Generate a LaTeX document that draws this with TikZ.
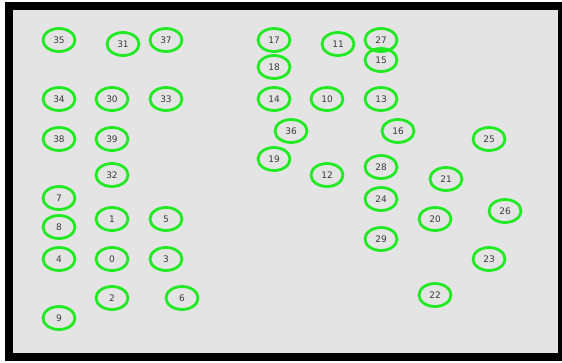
\documentclass[tikz,border=0pt]{standalone}
\usepackage{fontspec}
\setmainfont{DejaVu Sans}
\usepackage{xcolor}
\usepackage{tikz}
\usetikzlibrary{shapes.geometric}

\definecolor{panelgray}{HTML}{E4E4E4}
\definecolor{ringgreen}{HTML}{22EA22}
\definecolor{labelgray}{HTML}{3A3A3A}

\begin{document}
\begin{tikzpicture}[x=1pt, y=-1pt,
    blob/.style={ellipse, draw=ringgreen, line width=2.8pt, minimum width=32pt,
      minimum height=23pt, inner sep=0pt, text=labelgray, font=\fontsize{9}{10}\selectfont}]
  \useasboundingbox (0,0) rectangle (562,362);

  % Frame
  \fill[black] (5,2) rectangle (562,361);
  \fill[panelgray] (13,10) rectangle (558,353);

  % Left group
  \node[blob] (n35) at (59,40) {35};
  \node[blob] (n31) at (123,44) {31};
  \node[blob] (n37) at (166,40) {37};
  \node[blob] (n34) at (59,99) {34};
  \node[blob] (n30) at (112,99) {30};
  \node[blob] (n33) at (166,99) {33};
  \node[blob] (n38) at (59,139) {38};
  \node[blob] (n39) at (112,139) {39};
  \node[blob] (n32) at (112,175) {32};
  \node[blob] (n7) at (59,198) {7};
  \node[blob] (n8) at (59,227) {8};
  \node[blob] (n1) at (112,219) {1};
  \node[blob] (n5) at (166,219) {5};
  \node[blob] (n4) at (59,259) {4};
  \node[blob] (n0) at (112,259) {0};
  \node[blob] (n3) at (166,259) {3};
  \node[blob] (n2) at (112,298) {2};
  \node[blob] (n6) at (182,298) {6};
  \node[blob] (n9) at (59,318) {9};

  % Middle group
  \node[blob] (n17) at (274,40) {17};
  \node[blob] (n11) at (338,44) {11};
  \node[blob] (n27) at (381,40) {27};
  \node[blob] (n15) at (381,60) {15};
  \node[blob] (n18) at (274,67) {18};
  \node[blob] (n14) at (274,99) {14};
  \node[blob] (n10) at (327,99) {10};
  \node[blob] (n13) at (381,99) {13};
  \node[blob] (n36) at (291,131) {36};
  \node[blob] (n16) at (398,131) {16};
  \node[blob] (n19) at (274,159) {19};
  \node[blob] (n12) at (327,175) {12};
  \node[blob] (n28) at (381,167) {28};
  \node[blob] (n24) at (381,199) {24};
  \node[blob] (n29) at (381,239) {29};

  % Right group
  \node[blob] (n25) at (489,139) {25};
  \node[blob] (n21) at (446,179) {21};
  \node[blob] (n26) at (505,211) {26};
  \node[blob] (n20) at (435,219) {20};
  \node[blob] (n23) at (489,259) {23};
  \node[blob] (n22) at (435,295) {22};
\end{tikzpicture}
\end{document}
